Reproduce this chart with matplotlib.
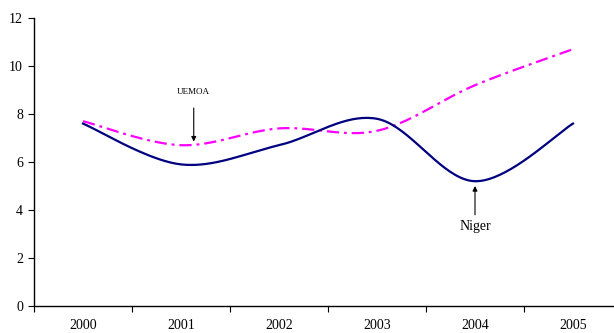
import numpy as np
import matplotlib
matplotlib.use("Agg")
import matplotlib.pyplot as plt

years = ["2000", "2001", "2002", "2003", "2004", "2005"]
niger = [7.6, 5.9, 6.7, 7.8, 5.2, 7.6]
uemoa = [7.7, 6.7, 7.4, 7.3, 9.2, 10.7]
y_ticks = [0, 2, 4, 6, 8, 10, 12]


def smooth(xs, ys, n=40):
    """Catmull-Rom style smoothing through every point (like a spreadsheet's smoothed line)."""
    p = np.column_stack([xs, ys]).astype(float)
    p = np.vstack([p[0], p, p[-1]])
    out = []
    for i in range(1, len(p) - 2):
        p0, p1, p2, p3 = p[i - 1], p[i], p[i + 1], p[i + 2]
        c1 = p1 + (p2 - p0) / 6.0
        c2 = p2 - (p3 - p1) / 6.0
        t = np.linspace(0, 1, n)[:, None]
        seg = ((1 - t) ** 3) * p1 + 3 * ((1 - t) ** 2) * t * c1 + 3 * (1 - t) * t ** 2 * c2 + t ** 3 * p2
        out.append(seg if i == 1 else seg[1:])
    s = np.vstack(out)
    return s[:, 0], s[:, 1]


plt.rcParams["font.family"] = ["Liberation Serif", "DejaVu Serif"]

fig = plt.figure(figsize=(6.14, 3.33), dpi=100)
ax = fig.add_axes([34 / 614, 1 - 306 / 333, 588 / 614, 288 / 333])

x = np.arange(len(years))
xs, ys = smooth(x, uemoa)
ax.plot(xs, ys, color="#ff00ff", lw=1.6, dashes=(5.5, 2.2, 1.3, 2.2), solid_capstyle="butt")
xs, ys = smooth(x, niger)
ax.plot(xs, ys, color="#000080", lw=1.6)

ax.set_xlim(-0.5, len(years) - 0.5)
ax.set_ylim(0, 12)
ax.set_yticks(y_ticks)
ax.set_yticklabels([str(v) for v in y_ticks], fontsize=10)
ax.set_xticks(np.arange(-0.5, len(years), 1.0))
ax.set_xticklabels([])
ax.set_xticks(x, minor=True)
ax.set_xticklabels(years, minor=True, fontsize=10)
ax.tick_params(axis="x", which="minor", length=0, pad=9.5)
ax.tick_params(axis="x", which="major", length=4, width=0.8, direction="out")
ax.tick_params(axis="y", length=4, width=0.8, direction="out", pad=4)
for side in ("top", "right"):
    ax.spines[side].set_visible(False)
for side in ("left", "bottom"):
    ax.spines[side].set_linewidth(1.0)

# annotations
arrow = dict(arrowstyle="-|>", color="black", lw=0.8, mutation_scale=7, shrinkA=0, shrinkB=0)
ax.annotate("", xy=(1.13, 6.85), xytext=(1.13, 8.25), arrowprops=arrow)
ax.text(1.13, 8.9, "UEMOA", fontsize=6.5, ha="center", va="center")
ax.annotate("", xy=(4.0, 5.0), xytext=(4.0, 3.8), arrowprops=arrow)
ax.text(4.0, 3.33, "Niger", fontsize=10, ha="center", va="center")

fig.savefig("out.png", dpi=100)
